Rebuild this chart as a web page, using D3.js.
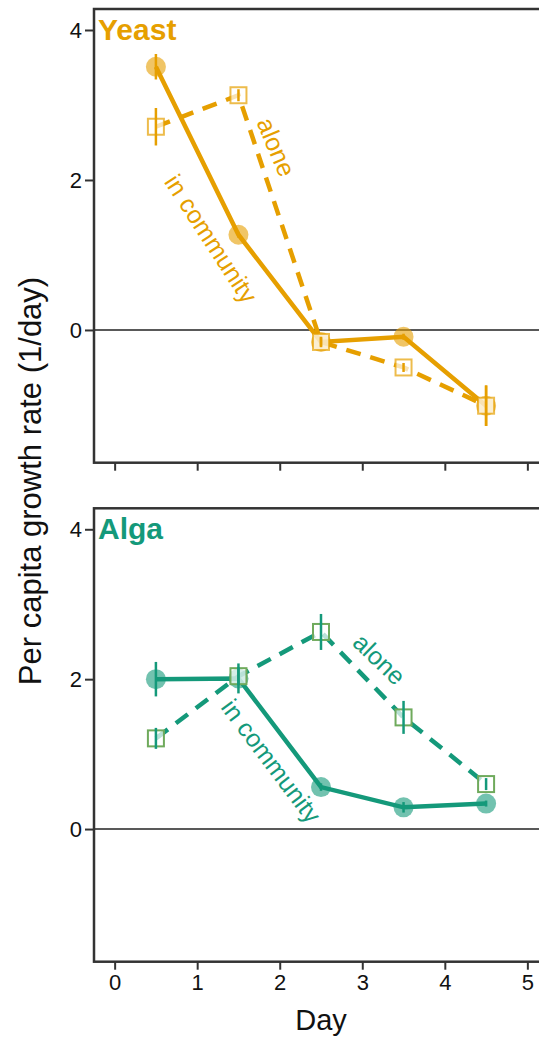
<!DOCTYPE html>
<html>
<head>
<meta charset="utf-8">
<script src="https://cdn.jsdelivr.net/npm/d3@7/dist/d3.min.js"></script>
<style>
  html, body { margin: 0; padding: 0; background: #fff; }
  svg { display: block; font-family: "Liberation Sans", Arial, Helvetica, sans-serif; }
</style>
</head>
<body>
<svg id="chart" width="539" height="1041"></svg>
<script>
// Sampling days (midpoints of each daily interval)
const days = [0.5, 1.5, 2.5, 3.5, 4.5];

// Yeast per capita growth rates
const yeastCommunity    = [3.51, 1.27, -0.16, -0.09, -1.01];
const yeastCommunityErr = [0.17, 0.04, 0.06, 0.04, 0.27];
const yeastAlone        = [2.71, 3.13, -0.16, -0.50, -1.01];
const yeastAloneErr     = [0.25, 0.08, 0.07, 0.06, 0.27];

// Alga per capita growth rates
const algaCommunity    = [2.00, 2.01, 0.56, 0.29, 0.34];
const algaCommunityErr = [0.23, 0.20, 0.05, 0.07, 0.04];
const algaAlone        = [1.21, 2.04, 2.63, 1.49, 0.60];
const algaAloneErr     = [0.14, 0.12, 0.24, 0.22, 0.08];

// Axis ticks
const xTicks = [0, 1, 2, 3, 4, 5];
const yTicks = [0, 2, 4];

const panels = [
  {
    title: "Yeast", color: "#E69F00", squareStroke: "rgba(230,159,0,0.7)",
    community: yeastCommunity, communityErr: yeastCommunityErr,
    alone: yeastAlone, aloneErr: yeastAloneErr,
    top: 9, bottom: 462.7, showXLabels: false,
    labels: [
      { text: "alone", day: 1.96, value: 2.44, angle: 67 },
      { text: "in community", day: 1.17, value: 1.22, angle: 57 }
    ]
  },
  {
    title: "Alga", color: "#14997A", squareStroke: "#6FAA5C",
    community: algaCommunity, communityErr: algaCommunityErr,
    alone: algaAlone, aloneErr: algaAloneErr,
    top: 508.3, bottom: 961.7, showXLabels: true,
    labels: [
      { text: "alone", day: 3.21, value: 2.27, angle: 44 },
      { text: "in community", day: 1.9, value: 0.91, angle: 53 }
    ]
  }
];

const svg = d3.select("#chart");
const left = 94, right = 548;
const x = d3.scaleLinear().domain([-0.25, 5.25]).range([left, right]);

panels.forEach(p => {
  const y = d3.scaleLinear().domain([-1.77, 4.28]).range([p.bottom, p.top]);
  const g = svg.append("g");

  // zero reference line
  g.append("line")
    .attr("x1", left).attr("x2", right)
    .attr("y1", y(0)).attr("y2", y(0))
    .attr("stroke", "#222").attr("stroke-width", 1.4);

  const line = d3.line().x((d, i) => x(days[i])).y(d => y(d));

  // alone: dashed line
  g.append("path").datum(p.alone)
    .attr("d", line)
    .attr("fill", "none").attr("stroke", p.color)
    .attr("stroke-width", 4.5).attr("stroke-dasharray", "15,10");

  // in community: solid line
  g.append("path").datum(p.community)
    .attr("d", line)
    .attr("fill", "none").attr("stroke", p.color)
    .attr("stroke-width", 4.5);

  // community points (filled, translucent circles)
  g.selectAll("circle.comm").data(p.community).join("circle")
    .attr("class", "comm")
    .attr("cx", (d, i) => x(days[i])).attr("cy", d => y(d))
    .attr("r", 10)
    .attr("fill", p.color).attr("fill-opacity", 0.6);

  // alone points (open squares)
  const s = 16;
  g.selectAll("rect.alone").data(p.alone).join("rect")
    .attr("class", "alone")
    .attr("x", (d, i) => x(days[i]) - s / 2).attr("y", d => y(d) - s / 2)
    .attr("width", s).attr("height", s)
    .attr("fill", "rgba(255,255,255,0.7)")
    .attr("stroke", p.squareStroke).attr("stroke-width", 2);

  // error bars
  const bars = (vals, errs) => vals.map((v, i) => ({ d: days[i], v, e: errs[i] }));
  g.selectAll("line.errc").data(bars(p.community, p.communityErr)).join("line")
    .attr("class", "errc")
    .attr("x1", d => x(d.d)).attr("x2", d => x(d.d))
    .attr("y1", d => y(d.v - d.e)).attr("y2", d => y(d.v + d.e))
    .attr("stroke", p.color).attr("stroke-width", 2.5);
  g.selectAll("line.erra").data(bars(p.alone, p.aloneErr)).join("line")
    .attr("class", "erra")
    .attr("x1", d => x(d.d)).attr("x2", d => x(d.d))
    .attr("y1", d => y(d.v - d.e)).attr("y2", d => y(d.v + d.e))
    .attr("stroke", p.color).attr("stroke-width", 2.5);

  // inline series labels
  p.labels.forEach(l => {
    g.append("text")
      .attr("transform", `translate(${x(l.day)},${y(l.value)}) rotate(${l.angle})`)
      .attr("text-anchor", "middle").attr("dominant-baseline", "central")
      .attr("fill", p.color).attr("font-size", 25)
      .text(l.text);
  });

  // panel title
  g.append("text")
    .attr("x", 98).attr("y", p.top + 31)
    .attr("fill", p.color).attr("font-size", 30).attr("font-weight", "bold")
    .text(p.title);

  // y axis
  const yAxis = d3.axisLeft(y).tickValues(yTicks).tickSize(9).tickPadding(3).tickFormat(d3.format("d"));
  const ya = g.append("g").attr("transform", `translate(${left},0)`).call(yAxis);
  ya.select(".domain").remove();
  ya.selectAll(".tick line").attr("stroke", "#333").attr("stroke-width", 2);
  ya.selectAll(".tick text").attr("font-size", 22).attr("fill", "#111")
    .attr("font-family", "'Liberation Sans', Arial, Helvetica, sans-serif");

  // x axis
  const xAxis = d3.axisBottom(x).tickValues(xTicks).tickSize(8).tickPadding(5)
    .tickFormat(p.showXLabels ? d3.format("d") : "");
  const xa = g.append("g").attr("transform", `translate(0,${p.bottom})`).call(xAxis);
  xa.select(".domain").remove();
  xa.selectAll(".tick line").attr("stroke", "#333").attr("stroke-width", 2);
  xa.selectAll(".tick text").attr("font-size", 22).attr("fill", "#111")
    .attr("font-family", "'Liberation Sans', Arial, Helvetica, sans-serif");

  // panel frame
  g.append("rect")
    .attr("x", left).attr("y", p.top)
    .attr("width", right - left).attr("height", p.bottom - p.top)
    .attr("fill", "none").attr("stroke", "#333").attr("stroke-width", 2.5);
});

// axis titles
svg.append("text")
  .attr("transform", "translate(41,481) rotate(-90)")
  .attr("text-anchor", "middle")
  .attr("font-size", 31).attr("fill", "#111")
  .text("Per capita growth rate (1/day)");

svg.append("text")
  .attr("x", x(2.5)).attr("y", 1030)
  .attr("text-anchor", "middle")
  .attr("font-size", 29).attr("fill", "#111")
  .text("Day");
</script>
</body>
</html>
